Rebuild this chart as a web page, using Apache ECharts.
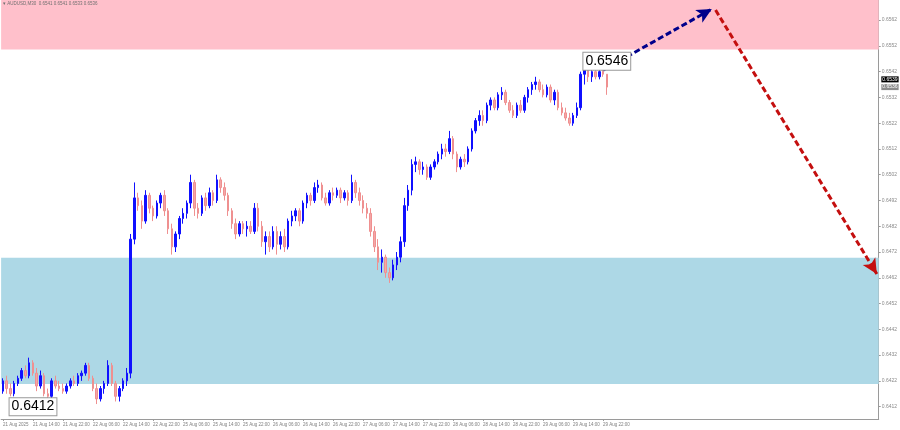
<!DOCTYPE html>
<html><head><meta charset="utf-8">
<script src="https://cdn.jsdelivr.net/npm/echarts@6/dist/echarts.min.js"></script>
<style>html,body{margin:0;padding:0;background:#fff}#c{width:900px;height:430px}</style>
</head><body><div id="c"></div>
<script>
const chartTitle = '\u25BE AUDUSD,M30  0.6541 0.6541 0.6533 0.6536';
const tickLabels = ['21 Aug 2025','21 Aug 14:00','21 Aug 22:00','22 Aug 06:00','22 Aug 14:00','22 Aug 22:00',
  '25 Aug 06:00','25 Aug 14:00','25 Aug 22:00','26 Aug 06:00','26 Aug 14:00','26 Aug 22:00',
  '27 Aug 06:00','27 Aug 14:00','27 Aug 22:00','28 Aug 06:00','28 Aug 14:00','28 Aug 22:00',
  '29 Aug 06:00','29 Aug 14:00','29 Aug 22:00'];
const yTicks = [0.6412,0.6422,0.6432,0.6442,0.6452,0.6462,0.6472,0.6482,0.6492,0.6502,0.6512,0.6522,0.6532,0.6542,0.6552,0.6562];

const opens = [
0.6418,0.6422,0.6419,0.6417,0.6421,0.6423,0.6426,0.6424,0.6429,0.6425,
0.6420,0.6424,0.6417,0.6416,0.6422,0.6420,0.6419,0.6418,0.6420,0.6422,
0.6421,0.6424,0.6425,0.6428,0.6423,0.6419,0.6415,0.6419,0.6421,0.6428,
0.6421,0.6416,0.6419,0.6422,0.6425,0.6477,0.6493,0.6490,0.6484,0.6494,
0.6489,0.6486,0.6491,0.6494,0.6488,0.6481,0.6474,0.6479,0.6485,0.6487,
0.6491,0.6499,0.6489,0.6487,0.6493,0.6490,0.6495,0.6492,0.6500,0.6497,
0.6494,0.6488,0.6483,0.6479,0.6483,0.6481,0.6482,0.6480,0.6489,0.6482,
0.6476,0.6478,0.6474,0.6480,0.6475,0.6478,0.6474,0.6484,0.6486,0.6488,
0.6484,0.6491,0.6494,0.6492,0.6497,0.6498,0.6493,0.6491,0.6495,0.6494,
0.6496,0.6493,0.6495,0.6492,0.6499,0.6495,0.6492,0.6489,0.6487,0.6480,
0.6474,0.6468,0.6470,0.6464,0.6462,0.6467,0.6470,0.6476,0.6490,0.6496,
0.6506,0.6507,0.6504,0.6505,0.6501,0.6505,0.6507,0.6510,0.6512,0.6511,
0.6516,0.6510,0.6505,0.6508,0.6507,0.6512,0.6519,0.6523,0.6525,0.6523,
0.6529,0.6531,0.6528,0.6533,0.6534,0.6530,0.6527,0.6525,0.6529,0.6527,
0.6532,0.6535,0.6537,0.6538,0.6535,0.6533,0.6536,0.6531,0.6534,0.6528,
0.6526,0.6524,0.6522,0.6525,0.6528,0.6541,0.6543,0.6540,0.6542,0.6540,
0.6542,0.6541];
const highs = [
0.6423,0.6424,0.6421,0.6422,0.6424,0.6427,0.6428,0.6431,0.6430,0.6427,
0.6426,0.6425,0.6419,0.6423,0.6424,0.6422,0.6421,0.6421,0.6423,0.6424,
0.6425,0.6426,0.6429,0.6429,0.6424,0.6421,0.6420,0.6422,0.6430,0.6429,
0.6422,0.6420,0.6423,0.6427,0.6479,0.6499,0.6495,0.6492,0.6496,0.6495,
0.6490,0.6492,0.6495,0.6496,0.6489,0.6483,0.6480,0.6486,0.6489,0.6492,
0.6502,0.6500,0.6491,0.6494,0.6495,0.6497,0.6496,0.6502,0.6501,0.6499,
0.6495,0.6489,0.6485,0.6484,0.6484,0.6484,0.6484,0.6491,0.6491,0.6484,
0.6480,0.6480,0.6482,0.6482,0.6480,0.6481,0.6485,0.6488,0.6489,0.6489,
0.6492,0.6495,0.6495,0.6499,0.6500,0.6499,0.6495,0.6496,0.6497,0.6497,
0.6497,0.6496,0.6496,0.6502,0.6500,0.6497,0.6494,0.6491,0.6489,0.6482,
0.6477,0.6473,0.6471,0.6466,0.6469,0.6472,0.6478,0.6493,0.6498,0.6508,
0.6509,0.6508,0.6507,0.6506,0.6506,0.6508,0.6511,0.6514,0.6514,0.6519,
0.6517,0.6511,0.6509,0.6510,0.6513,0.6520,0.6524,0.6527,0.6527,0.6530,
0.6532,0.6532,0.6534,0.6536,0.6535,0.6531,0.6529,0.6530,0.6531,0.6533,
0.6536,0.6538,0.6540,0.6539,0.6537,0.6537,0.6537,0.6535,0.6535,0.6530,
0.6528,0.6526,0.6526,0.6530,0.6542,0.6546,0.6546,0.6543,0.6543,0.6543,
0.6543,0.6541];
const lows = [
0.6417,0.6417,0.6416,0.6416,0.6420,0.6422,0.6423,0.6423,0.6424,0.6418,
0.6419,0.6416,0.6415,0.6415,0.6419,0.6418,0.6417,0.6417,0.6419,0.6420,
0.6420,0.6422,0.6424,0.6422,0.6418,0.6413,0.6414,0.6417,0.6420,0.6420,
0.6414,0.6414,0.6418,0.6420,0.6423,0.6475,0.6488,0.6481,0.6483,0.6487,
0.6484,0.6485,0.6489,0.6486,0.6479,0.6471,0.6472,0.6477,0.6483,0.6485,
0.6489,0.6486,0.6485,0.6486,0.6488,0.6489,0.6490,0.6491,0.6495,0.6492,
0.6486,0.6481,0.6477,0.6478,0.6479,0.6478,0.6479,0.6479,0.6480,0.6474,
0.6471,0.6472,0.6473,0.6471,0.6473,0.6472,0.6473,0.6482,0.6484,0.6482,
0.6483,0.6489,0.6490,0.6491,0.6495,0.6492,0.6490,0.6490,0.6492,0.6493,
0.6491,0.6492,0.6490,0.6491,0.6493,0.6490,0.6487,0.6485,0.6478,0.6472,
0.6465,0.6464,0.6462,0.6460,0.6461,0.6465,0.6468,0.6474,0.6488,0.6494,
0.6503,0.6502,0.6502,0.6500,0.6500,0.6504,0.6506,0.6508,0.6509,0.6510,
0.6508,0.6503,0.6504,0.6505,0.6506,0.6511,0.6518,0.6521,0.6521,0.6522,
0.6527,0.6527,0.6527,0.6531,0.6529,0.6526,0.6524,0.6524,0.6526,0.6526,
0.6530,0.6533,0.6535,0.6534,0.6532,0.6532,0.6530,0.6529,0.6527,0.6525,
0.6523,0.6521,0.6521,0.6524,0.6527,0.6537,0.6538,0.6538,0.6539,0.6539,
0.6540,0.6533];
const closes = [
0.6422,0.6419,0.6417,0.6421,0.6423,0.6426,0.6424,0.6429,0.6425,0.6420,
0.6424,0.6417,0.6416,0.6422,0.6420,0.6419,0.6418,0.6420,0.6422,0.6421,
0.6424,0.6425,0.6428,0.6423,0.6419,0.6415,0.6419,0.6421,0.6428,0.6421,
0.6416,0.6419,0.6422,0.6425,0.6477,0.6493,0.6490,0.6484,0.6494,0.6489,
0.6486,0.6491,0.6494,0.6488,0.6481,0.6474,0.6479,0.6485,0.6487,0.6491,
0.6499,0.6489,0.6487,0.6493,0.6490,0.6495,0.6492,0.6500,0.6497,0.6494,
0.6488,0.6483,0.6479,0.6483,0.6481,0.6482,0.6480,0.6489,0.6482,0.6476,
0.6478,0.6474,0.6480,0.6475,0.6478,0.6474,0.6484,0.6486,0.6488,0.6484,
0.6491,0.6494,0.6492,0.6497,0.6498,0.6493,0.6491,0.6495,0.6494,0.6496,
0.6493,0.6495,0.6492,0.6499,0.6495,0.6492,0.6489,0.6487,0.6480,0.6474,
0.6468,0.6470,0.6464,0.6462,0.6467,0.6470,0.6476,0.6490,0.6496,0.6506,
0.6507,0.6504,0.6505,0.6501,0.6505,0.6507,0.6510,0.6512,0.6511,0.6516,
0.6510,0.6505,0.6508,0.6507,0.6512,0.6519,0.6523,0.6525,0.6523,0.6529,
0.6531,0.6528,0.6533,0.6534,0.6530,0.6527,0.6525,0.6529,0.6527,0.6532,
0.6535,0.6537,0.6538,0.6535,0.6533,0.6536,0.6531,0.6534,0.6528,0.6526,
0.6524,0.6522,0.6525,0.6528,0.6541,0.6543,0.6540,0.6542,0.6540,0.6542,
0.6541,0.6536];

const sellZone = [0.65506, 0.65698];
const buyZone = [0.64208, 0.64698];
const waveLabels = [{idx: 8, value: 0.6412, text: '0.6412'}, {idx: 161, value: 0.6546, text: '0.6546'}];
const forecastBlue = [[160, 0.65426], [189, 0.65663]];
const forecastRed = [[190, 0.65659], [233, 0.64635]];
const priceTags = [{value: 0.6539, bg: '#000000'}, {value: 0.6536, bg: '#8c8c8c'}];
const yMin = 0.64072, yMax = 0.65698;
const totalSlots = 234;

// category slots (hourly, weekend skipped); future slots left empty
const dayNames = ['21 Aug','22 Aug','25 Aug','26 Aug','27 Aug','28 Aug','29 Aug','30 Aug','31 Aug','01 Sep','02 Sep','03 Sep'];
const categories = [];
{ let d = 0, h = 6;
  for (let i = 0; i < totalSlots; i++) {
    categories.push(dayNames[d] + ' ' + String(h).padStart(2, '0') + ':00');
    h++; if (h === 24) { h = 0; d++; }
  } }
const candleData = opens.map((o, i) => [o, closes[i], lows[i], highs[i]]);
const showTick = (i) => i % 8 === 0 && i / 8 < tickLabels.length;

const waveMarks = waveLabels.map(w => ({name: w.text, coord: [w.idx, w.value]}));
const tagMarks = priceTags.map(t => ({name: t.value.toFixed(4), coord: [totalSlots - 1, t.value],
  label: {position: 'right', distance: 4, fontSize: 5, color: '#fff', backgroundColor: t.bg,
    borderWidth: 0, padding: [1, 1, 0, 1]}}));

const chart = echarts.init(document.getElementById('c'), null, {renderer: 'canvas'});
chart.setOption({
  animation: false,
  backgroundColor: '#fff',
  textStyle: {fontFamily: 'Liberation Sans, Arial, sans-serif'},
  title: {text: chartTitle, left: 3, top: 1, padding: 0,
    textStyle: {fontSize: 4.5, color: '#707070', fontWeight: 'normal'}},
  grid: {left: 0, right: 17, top: 0, bottom: 11, containLabel: false},
  xAxis: {
    type: 'category', data: categories, boundaryGap: true,
    axisLine: {show: true, lineStyle: {color: '#9a9a9a', width: 1}},
    axisTick: {show: true, length: 2, alignWithLabel: true, interval: showTick, lineStyle: {color: '#9a9a9a'}},
    axisLabel: {interval: showTick, formatter: (v, i) => tickLabels[i / 8] || '', fontSize: 4.5,
      color: '#808080', align: 'left', margin: 3},
    splitLine: {show: false}
  },
  yAxis: {
    type: 'value', position: 'right', min: yMin, max: yMax, scale: true,
    axisLine: {show: true, lineStyle: {color: '#9a9a9a', width: 1}},
    axisTick: {show: true, length: 2, customValues: yTicks, lineStyle: {color: '#9a9a9a'}},
    axisLabel: {customValues: yTicks, fontSize: 5, color: '#8a8a8a', margin: 3, formatter: v => v.toFixed(4)},
    splitLine: {show: false}
  },
  series: [
    {type: 'line', data: [], z: 1, silent: true,
      markArea: {silent: true, data: [
        [{yAxis: sellZone[0], itemStyle: {color: '#ffc0cb', opacity: 1}}, {yAxis: sellZone[1]}],
        [{yAxis: buyZone[0], itemStyle: {color: '#add8e6', opacity: 1}}, {yAxis: buyZone[1]}]
      ]}},
    {type: 'candlestick', data: candleData, z: 3, barWidth: 2,
      itemStyle: {color: '#1010ff', color0: '#f4a6a6', borderColor: '#1010ff', borderColor0: '#ef9090', borderWidth: 1},
      markPoint: {silent: true, symbol: 'rect', symbolSize: 1, itemStyle: {color: 'rgba(0,0,0,0)'},
        label: {show: true, position: 'inside', formatter: p => p.name, fontSize: 14, color: '#000',
          backgroundColor: '#fff', borderColor: '#999', borderWidth: 1, padding: [2, 2, 1, 2]},
        data: waveMarks.concat(tagMarks)}},
    {type: 'line', data: [], z: 6, silent: true,
      markLine: {silent: true, symbol: ['none', 'arrow'], symbolSize: [11, 15],
        label: {show: false}, lineStyle: {width: 3, type: [6, 3]},
        data: [
          [{coord: forecastBlue[0], lineStyle: {color: '#00008b'}, itemStyle: {color: '#00008b'}}, {coord: forecastBlue[1]}],
          [{coord: forecastRed[0], lineStyle: {color: '#c40f0f'}, itemStyle: {color: '#c40f0f'}}, {coord: forecastRed[1]}]
        ]}}
  ]
});
</script></body></html>
